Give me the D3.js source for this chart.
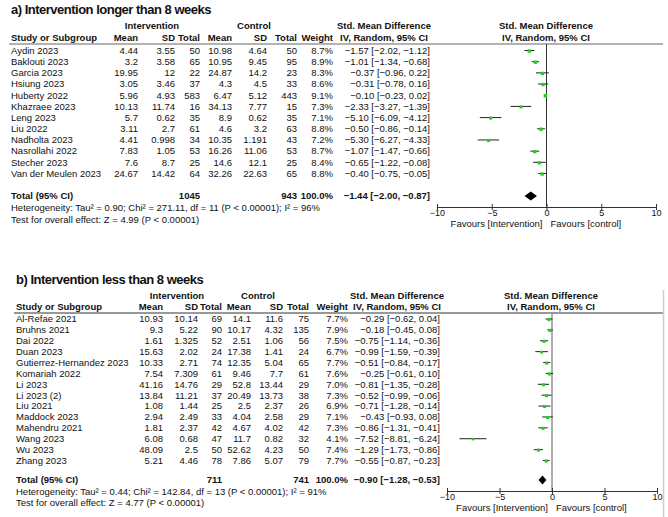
<!DOCTYPE html>
<html><head><meta charset="utf-8">
<script src="https://cdn.jsdelivr.net/npm/d3@7"></script>
<style>body{margin:0;background:#fff}svg{display:block}text{font-family:"Liberation Sans",Arial,sans-serif;fill:#111}</style>
</head><body><svg id="c" width="668" height="517"></svg>
<script>
// ---------- Panel a data ----------
const studiesA = ["Aydin 2023","Baklouti 2023","Garcia 2023","Hsiung 2023","Huberty 2022","Khazraee 2023","Leng 2023","Liu 2022","Nadholta 2023","Nasrollahi 2022","Stecher 2023","Van der Meulen 2023"];
const intMeanA = [4.44,3.2,19.95,3.05,5.96,10.13,5.7,3.11,4.41,7.83,7.6,24.67];
const intSDA   = [3.55,3.58,12,3.46,4.93,11.74,0.62,2.7,0.998,1.05,8.7,14.42];
const intNA    = [50,65,22,37,583,16,35,61,34,53,25,64];
const ctlMeanA = [10.98,10.95,24.87,4.3,6.47,34.13,8.9,4.6,10.35,16.26,14.6,32.26];
const ctlSDA   = [4.64,9.45,14.2,4.5,5.12,7.77,0.62,3.2,1.191,11.06,12.1,22.63];
const ctlNA    = [50,95,23,33,443,15,35,63,43,53,25,65];
const weightA  = [8.7,8.9,8.3,8.6,9.1,7.3,7.1,8.8,7.2,8.7,8.4,8.8];
const smdA     = [-1.57,-1.01,-0.37,-0.31,-0.10,-2.33,-5.10,-0.50,-5.30,-1.07,-0.65,-0.40];
const loA      = [-2.02,-1.34,-0.96,-0.78,-0.23,-3.27,-6.09,-0.86,-6.27,-1.47,-1.22,-0.75];
const hiA      = [-1.12,-0.68,0.22,0.16,0.02,-1.39,-4.12,-0.14,-4.33,-0.66,-0.08,-0.05];
const totalA   = {intN:1045, ctlN:943, weight:100.0, smd:-1.44, lo:-2.00, hi:-0.87};
const hetA = "Heterogeneity: Tau² = 0.90; Chi² = 271.11, df = 11 (P < 0.00001); I² = 96%";
const testA = "Test for overall effect: Z = 4.99 (P < 0.00001)";

// ---------- Panel b data ----------
const studiesB = ["Al-Refae 2021","Bruhns 2021","Dai 2022","Duan 2023","Gutierrez-Hernandez 2023","Komariah 2022","Li 2023","Li 2023 (2)","Liu 2021","Maddock 2023","Mahendru 2021","Wang 2023","Wu 2023","Zhang 2023"];
const intMeanB = [10.93,9.3,1.61,15.63,10.33,7.54,41.16,13.84,1.08,2.94,1.81,6.08,48.09,5.21];
const intSDB   = [10.14,5.22,1.325,2.02,2.71,7.309,14.76,11.21,1.44,2.49,2.37,0.68,2.5,4.46];
const intNB    = [69,90,52,24,74,61,29,37,25,33,42,47,50,78];
const ctlMeanB = [14.1,10.17,2.51,17.38,12.35,9.46,52.8,20.49,2.5,4.04,4.67,11.7,52.62,7.86];
const ctlSDB   = [11.6,4.32,1.06,1.41,5.04,7.7,13.44,13.73,2.37,2.58,4.02,0.82,4.23,5.07];
const ctlNB    = [75,135,56,24,65,61,29,38,26,29,42,32,50,79];
const weightB  = [7.7,7.9,7.5,6.7,7.7,7.6,7.0,7.3,6.9,7.1,7.3,4.1,7.4,7.7];
const smdB     = [-0.29,-0.18,-0.75,-0.99,-0.51,-0.25,-0.81,-0.52,-0.71,-0.43,-0.86,-7.52,-1.29,-0.55];
const loB      = [-0.62,-0.45,-1.14,-1.59,-0.84,-0.61,-1.35,-0.99,-1.28,-0.93,-1.31,-8.81,-1.73,-0.87];
const hiB      = [0.04,0.08,-0.36,-0.39,-0.17,0.10,-0.28,-0.06,-0.14,0.08,-0.41,-6.24,-0.86,-0.23];
const totalB   = {intN:711, ctlN:741, weight:100.0, smd:-0.90, lo:-1.28, hi:-0.53};
const hetB = "Heterogeneity: Tau² = 0.44; Chi² = 142.84, df = 13 (P < 0.00001); I² = 91%";
const testB = "Test for overall effect: Z = 4.77 (P < 0.00001)";

const axisTicks = [-10,-5,0,5,10];
const favLeft = "Favours [Intervention]", favRight = "Favours [control]";

const svg = d3.select("#c");
const f2 = d3.format(".2f");
const ciStr = (m,l,h) => `${f2(m)} [${f2(l)}, ${f2(h)}]`;
const sq = d3.scaleSqrt().domain([0,10]).range([0,3.6]);

function panel(o){
  const g = svg.append("g");
  const FS = 9.5;
  g.append("text").attr("x",o.titleX).attr("y",o.titleY).attr("font-size",13).attr("font-weight","bold")
   .attr("letter-spacing","-0.5").text(o.title);
  const h1 = [[o.c.int,"Intervention"],[o.c.ctl,"Control"],[o.c.smd,"Std. Mean Difference"],[o.c.fp,"Std. Mean Difference"]];
  h1.forEach(d=>g.append("text").attr("x",d[0]).attr("y",o.hy1).attr("dy","0.35em").attr("text-anchor","middle")
    .attr("font-size",FS).attr("font-weight","bold").text(d[1]));
  g.append("text").attr("x",o.c.study).attr("y",o.hy2).attr("dy","0.35em").attr("font-size",FS).attr("font-weight","bold").text("Study or Subgroup");
  [["Mean",o.c.im],["SD",o.c.isd],["Total",o.c.in],["Mean",o.c.cm],["SD",o.c.csd],["Total",o.c.cn],["Weight",o.c.w]].forEach(d=>
    g.append("text").attr("x",d[1]).attr("y",o.hy2).attr("dy","0.35em").attr("text-anchor","end").attr("font-size",FS).attr("font-weight","bold").text(d[0]));
  g.append("text").attr("x",o.c.smd).attr("y",o.hy2).attr("dy","0.35em").attr("text-anchor","middle").attr("font-size",FS).attr("font-weight","bold").text("IV, Random, 95% CI");
  g.append("text").attr("x",o.c.fp).attr("y",o.hy2).attr("dy","0.35em").attr("text-anchor","middle").attr("font-size",FS).attr("font-weight","bold").text("IV, Random, 95% CI");
  g.append("line").attr("x1",o.lineX1).attr("x2",663).attr("y1",o.lineY).attr("y2",o.lineY).attr("stroke",o.lineCol).attr("stroke-width",o.lineW);

  const y = d3.scalePoint().domain(o.d.studies).range([o.row0,o.rowN]);
  const x = d3.scaleLinear().domain([-10,10]).range(o.xr);

  const rows = o.d.studies.map((s,i)=>({s,i}));
  const cols = [[o.c.im,o.d.im],[o.c.isd,o.d.isd],[o.c.in,o.d.in],[o.c.cm,o.d.cm],[o.c.csd,o.d.csd],[o.c.cn,o.d.cn]];
  rows.forEach(r=>{
    const yy = y(r.s);
    g.append("text").attr("x",o.c.study).attr("y",yy).attr("dy","0.35em").attr("font-size",FS).text(r.s);
    cols.forEach(c=>g.append("text").attr("x",c[0]).attr("y",yy).attr("dy","0.35em").attr("text-anchor","end").attr("font-size",FS).text(String(c[1][r.i])));
    g.append("text").attr("x",o.c.w).attr("y",yy).attr("dy","0.35em").attr("text-anchor","end").attr("font-size",FS).text(o.d.w[r.i].toFixed(1)+"%");
    g.append("text").attr("x",o.c.ci).attr("y",yy).attr("dy","0.35em").attr("text-anchor","end").attr("font-size",FS).text(ciStr(o.d.smd[r.i],o.d.lo[r.i],o.d.hi[r.i]));
  });
  const T = o.d.total;
  const tb = (xx,t,anc)=>g.append("text").attr("x",xx).attr("y",o.totY).attr("dy","0.35em").attr("text-anchor",anc).attr("font-size",FS).attr("font-weight","bold").text(t);
  tb(o.c.study,"Total (95% CI)","start"); tb(o.c.in,T.intN,"end"); tb(o.c.cn,T.ctlN,"end");
  tb(o.c.w,T.weight.toFixed(1)+"%","end"); tb(o.c.ci,ciStr(T.smd,T.lo,T.hi),"end");
  g.append("text").attr("x",o.c.study).attr("y",o.hetY).attr("dy","0.35em").attr("font-size",FS).text(o.d.het);
  g.append("text").attr("x",o.c.study).attr("y",o.testY).attr("dy","0.35em").attr("font-size",FS).text(o.d.test);

  g.append("line").attr("x1",x(0)).attr("x2",x(0)).attr("y1",o.lineY).attr("y2",o.axisY).attr("stroke",o.zeroCol).attr("stroke-width",o.zeroW);
  rows.forEach(r=>{
    const yy = y(r.s);
    g.append("line").attr("x1",x(o.d.lo[r.i])).attr("x2",x(o.d.hi[r.i])).attr("y1",yy).attr("y2",yy).attr("stroke","#222").attr("stroke-width",1);
    const s = sq(o.d.w[r.i]);
    g.append("rect").attr("x",x(o.d.smd[r.i])-s/2).attr("y",yy-s/2+0.5).attr("width",s).attr("height",s).attr("fill","#22cc22");
  });
  const dy = o.totY;
  g.append("path").attr("d",`M${x(T.lo)},${dy}L${x(T.smd)},${dy-4.5}L${x(T.hi)},${dy}L${x(T.smd)},${dy+4.5}Z`).attr("fill","#000");
  const ax = d3.axisBottom(x).tickValues(axisTicks).tickSize(3).tickSizeOuter(0).tickFormat(d3.format("d"));
  const ag = g.append("g").attr("transform",`translate(0,${o.axisY})`).call(ax);
  ag.select(".domain").attr("stroke","#333");
  ag.selectAll(".tick line").attr("y1",-3).attr("y2",3).attr("stroke","#333");
  ag.selectAll(".tick text").attr("font-size",9).attr("font-family","Liberation Sans, Arial, sans-serif").attr("fill","#111")
    .attr("y",6).attr("dy","0.35em");
  g.append("text").attr("x",x(0)-4).attr("y",o.axisY+17).attr("dy","0.35em").attr("text-anchor","end").attr("font-size",FS).text(favLeft);
  g.append("text").attr("x",x(0)+4).attr("y",o.axisY+17).attr("dy","0.35em").attr("font-size",FS).text(favRight);
}

panel({
  title:"a) Intervention longer than 8 weeks", titleX:11, titleY:14,
  c:{study:11, int:152, ctl:254, smd:384, fp:546, im:138, isd:175, in:200, cm:232, csd:267, cn:297, w:333, ci:430},
  hy1:26, hy2:38, lineY:44, lineX1:9, lineCol:"#666", lineW:1.2,
  row0:50.5, rowN:173.5, totY:196, hetY:208, testY:220,
  xr:[437,656], axisY:207, zeroCol:"#333", zeroW:1,
  d:{studies:studiesA, im:intMeanA, isd:intSDA, in:intNA, cm:ctlMeanA, csd:ctlSDA, cn:ctlNA, w:weightA, smd:smdA, lo:loA, hi:hiA, total:totalA, het:hetA, test:testA}
});
panel({
  title:"b) Intervention less than 8 weeks", titleX:16, titleY:284,
  c:{study:16, int:177, ctl:258, smd:397, fp:551, im:163, isd:198, in:222, cm:251, csd:283, cn:309, w:348, ci:440},
  hy1:296, hy2:307, lineY:313, lineX1:14, lineCol:"#999", lineW:1.8,
  row0:319, rowN:460.5, totY:480, hetY:492, testY:503,
  xr:[447,657], axisY:491, zeroCol:"#999", zeroW:1.6,
  d:{studies:studiesB, im:intMeanB, isd:intSDB, in:intNB, cm:ctlMeanB, csd:ctlSDB, cn:ctlNB, w:weightB, smd:smdB, lo:loB, hi:hiB, total:totalB, het:hetB, test:testB}
});
svg.append("line").attr("x1",663.5).attr("x2",663.5).attr("y1",290).attr("y2",517).attr("stroke","#ccc").attr("stroke-width",1.5);
</script></body></html>
